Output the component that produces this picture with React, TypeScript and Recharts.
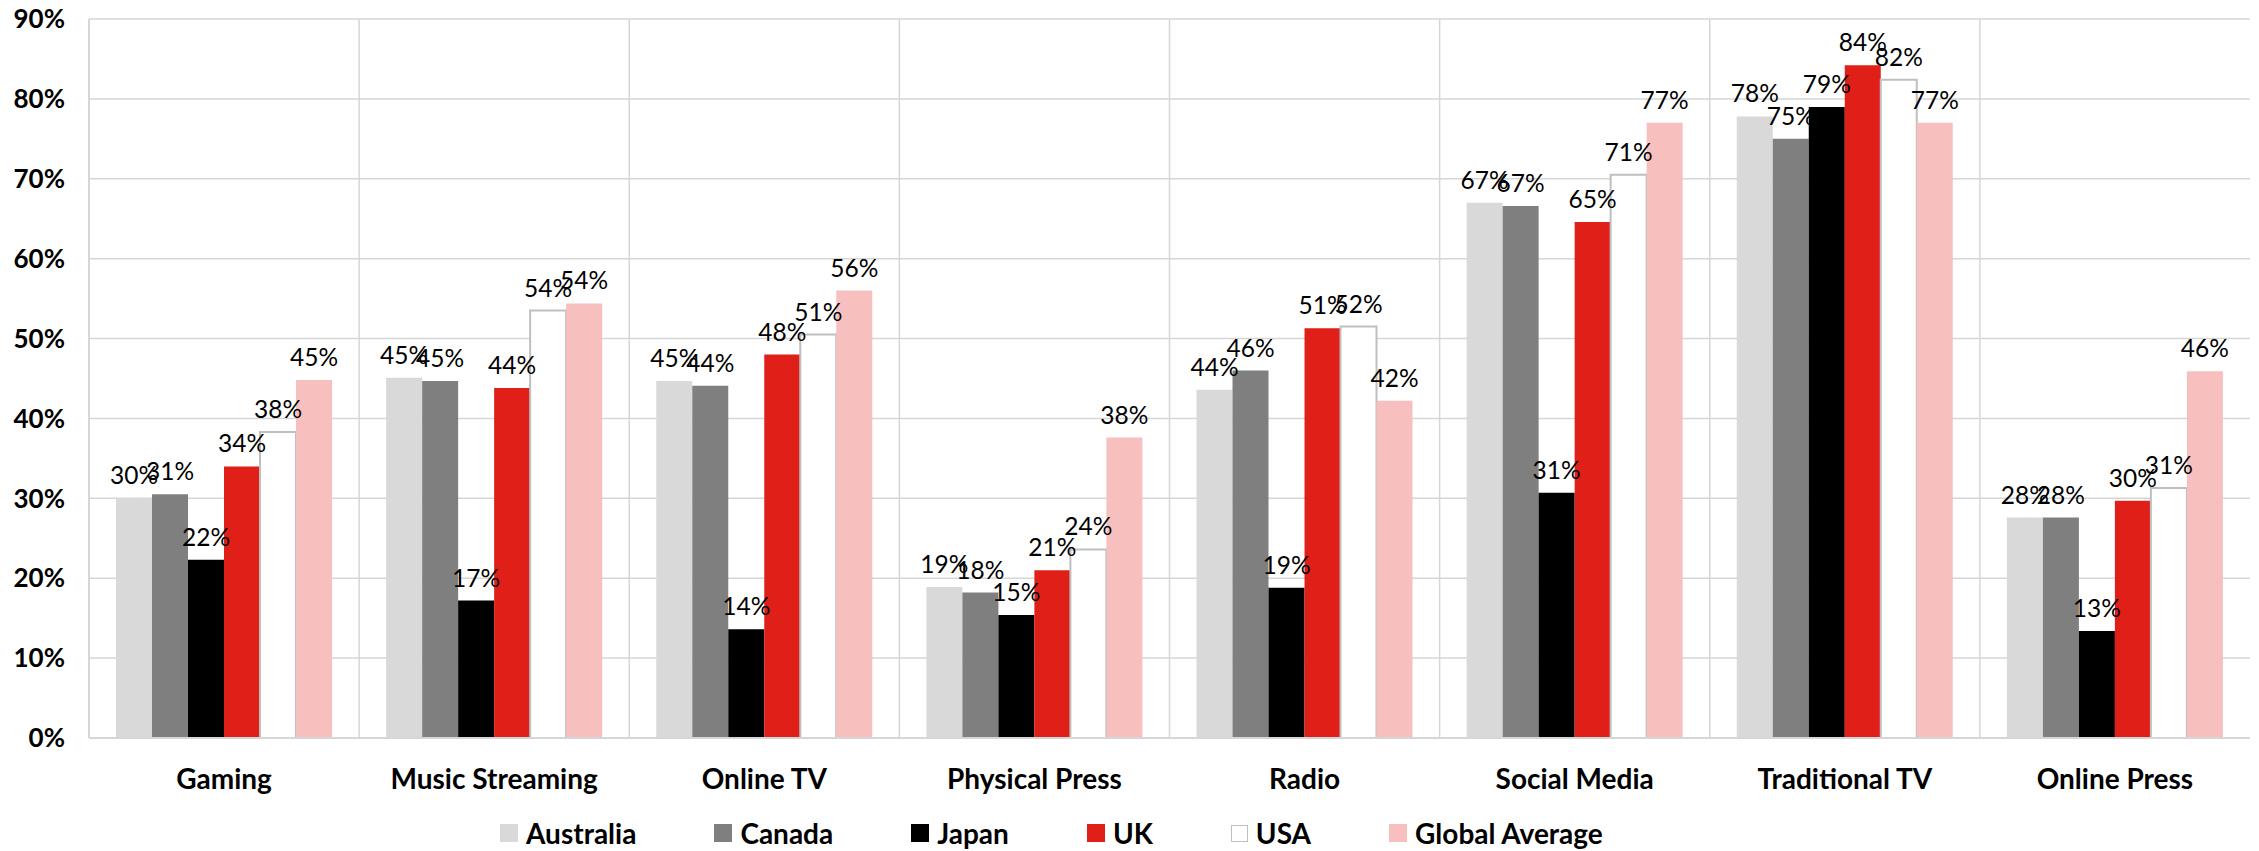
import { BarChart, Bar, XAxis, YAxis, CartesianGrid, Legend, LabelList } from "recharts";

const categories = [
  "Gaming",
  "Music Streaming",
  "Online TV",
  "Physical Press",
  "Radio",
  "Social Media",
  "Traditional TV",
  "Online Press",
];

// share of respondents, %
const australia = [30, 45.1, 44.7, 18.9, 43.6, 67, 77.8, 27.6];
const canada = [30.5, 44.7, 44.1, 18.2, 46, 66.6, 75, 27.6];
const japan = [22.3, 17.2, 13.6, 15.4, 18.8, 30.7, 79, 13.4];
const uk = [34, 43.8, 48, 21, 51.3, 64.6, 84.2, 29.7];
const usa = [38.3, 53.5, 50.5, 23.6, 51.5, 70.5, 82.4, 31.3];
const globalAverage = [44.8, 54.4, 56, 37.6, 42.2, 77, 77, 45.9];

const yTicks = [0, 10, 20, 30, 40, 50, 60, 70, 80, 90];

const SERIES = [
  { key: "australia", name: "Australia", values: australia, fill: "#d9d9d9" },
  { key: "canada", name: "Canada", values: canada, fill: "#7f7f7f" },
  { key: "japan", name: "Japan", values: japan, fill: "#000000" },
  { key: "uk", name: "UK", values: uk, fill: "#df1f18" },
  { key: "usa", name: "USA", values: usa, fill: "#ffffff", stroke: "#bfbfbf" },
  { key: "global", name: "Global Average", values: globalAverage, fill: "#f8bfbf" },
];

const data = categories.map((name, i) => {
  const row: Record<string, string | number> = { name };
  SERIES.forEach((s) => {
    row[s.key] = s.values[i];
  });
  return row;
});

const FONT = "Lato, 'Liberation Sans', sans-serif";
const GRID = "#d6d6d6";

function LegendContent() {
  return (
    <div
      style={{
        height: 56,
        paddingTop: 20,
        paddingLeft: 500,
        boxSizing: "border-box",
        display: "flex",
        alignItems: "center",
        fontFamily: FONT,
        fontWeight: 700,
        fontSize: 28,
        color: "#000",
      }}
    >
      {SERIES.map((s) => (
        <div key={s.key} style={{ display: "flex", alignItems: "center", marginRight: 78 }}>
          <span
            style={{
              width: s.stroke ? 15 : 18,
              height: s.stroke ? 15 : 18,
              background: s.fill,
              border: s.stroke ? `1.5px solid ${s.stroke}` : "none",
              marginRight: 8,
              display: "inline-block",
            }}
          />
          <span>{s.name}</span>
        </div>
      ))}
    </div>
  );
}

export default function App() {
  return (
    <div style={{ position: "absolute", left: 0, top: 0, background: "#fff" }}>
      <BarChart
        width={2259}
        height={851}
        data={data}
        margin={{ top: 19, right: 9, left: 0, bottom: 0 }}
        barCategoryGap="10%"
        barGap={0}
      >
        <CartesianGrid
          stroke={GRID}
          strokeWidth={1.5}
          verticalCoordinatesGenerator={({ offset }: any) =>
            categories.slice(1).map((_, i) => offset.left + ((i + 1) * offset.width) / categories.length)
          }
        />
        <XAxis
          dataKey="name"
          height={57}
          tickLine={false}
          tickMargin={25}
          axisLine={{ stroke: GRID, strokeWidth: 2 }}
          tick={{ fill: "#000", fontSize: 28, fontWeight: 700, fontFamily: FONT }}
          interval={0}
        />
        <YAxis
          width={89}
          domain={[0, 90]}
          ticks={yTicks}
          tickFormatter={(v: number) => `${v}%`}
          tickLine={false}
          tickMargin={18}
          axisLine={{ stroke: GRID, strokeWidth: 2 }}
          tick={{ fill: "#000", fontSize: 26, fontWeight: 700, fontFamily: FONT }}
        />
        <Legend verticalAlign="bottom" content={<LegendContent />} />
        {SERIES.map((s) => (
          <Bar
            key={s.key}
            dataKey={s.key}
            name={s.name}
            fill={s.fill}
            stroke={s.stroke}
            strokeWidth={s.stroke ? 2 : 0}
            isAnimationActive={false}
          >
            <LabelList
              dataKey={s.key}
              position="top"
              offset={14}
              formatter={(v: any) => `${Math.round(Number(v))}%`}
              style={{ fill: "#000", fontSize: 24.5, fontFamily: FONT }}
            />
          </Bar>
        ))}
      </BarChart>
    </div>
  );
}
